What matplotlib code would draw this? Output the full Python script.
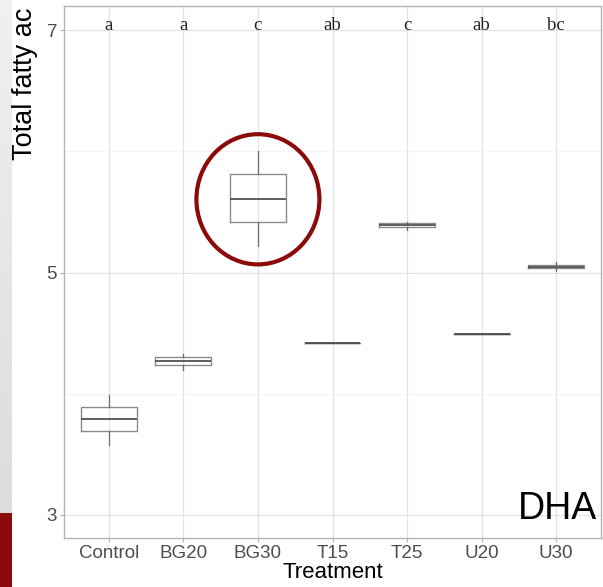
import matplotlib
matplotlib.use('Agg')
import matplotlib.pyplot as plt
from matplotlib.patches import Ellipse, Rectangle
import numpy as np

treatments = ['Control', 'BG20', 'BG30', 'T15', 'T25', 'U20', 'U30']
whislo = [3.58, 4.20, 5.22, 4.418, 5.35, 4.49, 5.01]
q1 = [3.69, 4.24, 5.42, 4.418, 5.378, 4.49, 5.04]
med = [3.79, 4.273, 5.61, 4.418, 5.394, 4.49, 5.05]
q3 = [3.89, 4.306, 5.81, 4.418, 5.411, 4.49, 5.06]
whishi = [3.99, 4.33, 6.00, 4.418, 5.42, 4.49, 5.09]
letters = ['a', 'a', 'c', 'ab', 'c', 'ab', 'bc']

plt.rcParams['font.family'] = ['Liberation Sans', 'DejaVu Sans']

fig = plt.figure(figsize=(6.03, 5.87), dpi=100)
ax = fig.add_axes([64 / 603, 49 / 587, 537 / 603, 532 / 587])

stats = []
for i in range(len(treatments)):
    stats.append(dict(med=med[i], q1=q1[i], q3=q3[i], whislo=whislo[i],
                      whishi=whishi[i], label=treatments[i]))
pos = np.arange(1, len(treatments) + 1)
ax.bxp(stats, positions=pos, widths=0.75, showfliers=False, showcaps=False,
       boxprops=dict(color='#8a8a8a', linewidth=1),
       whiskerprops=dict(color='#6a6a6a', linewidth=0.9),
       medianprops=dict(color='#444444', linewidth=1.2))

for i, lab in enumerate(letters):
    ax.text(pos[i], 7, lab, ha='center', va='baseline', fontsize=13.5,
            family=['Liberation Serif', 'DejaVu Serif'], color='#222222')

ax.set_xlim(0.4, 7.6)
ax.set_ylim(2.81, 7.2)
ax.set_yticks([3, 5, 7])
ax.set_yticks([4, 6], minor=True)
ax.set_xticks(pos)
ax.set_xticklabels(treatments)
ax.grid(True, which='major', color='#e3e3e3', linewidth=0.9)
ax.grid(True, which='minor', axis='y', color='#f2f2f2', linewidth=0.6)
ax.set_axisbelow(True)
ax.tick_params(axis='both', which='major', labelsize=13.5, labelcolor='#4d4d4d',
               color='#b3b3b3', length=3, width=0.8, pad=2)
ax.tick_params(axis='y', which='minor', length=0)
for s in ax.spines.values():
    s.set_color('#b3b3b3')
    s.set_linewidth(1)

ax.set_xlabel('Treatment', fontsize=16, labelpad=0)

ax.text(0.993, 0.035, 'DHA', transform=ax.transAxes, ha='right', va='baseline',
        fontsize=27, color='black')

# red ellipse highlight around BG30
ax.add_patch(Ellipse((3.0, 5.605), width=123 / 74.6, height=130 / 121,
                     fill=False, edgecolor='#8b0a0a', linewidth=3.0, zorder=5))

# slide background on the left edge
grad = np.linspace(0.94, 0.86, 256).reshape(-1, 1)
bg = fig.add_axes([0, 74 / 587, 12 / 603, 513 / 587])
bg.imshow(grad, aspect='auto', cmap='gray', vmin=0, vmax=1)
bg.axis('off')
fig.patches.append(Rectangle((0, 0), 12 / 603, 74 / 587, transform=fig.transFigure,
                             facecolor='#8b0a0a', edgecolor='none'))

# y label is cropped at the top in the source slide
fig.text(25 / 603, 1 - 160 / 587, 'Total fatty ac', rotation=90, ha='center',
         va='bottom', fontsize=19.5, color='black')

fig.savefig('out.png', dpi=100)
